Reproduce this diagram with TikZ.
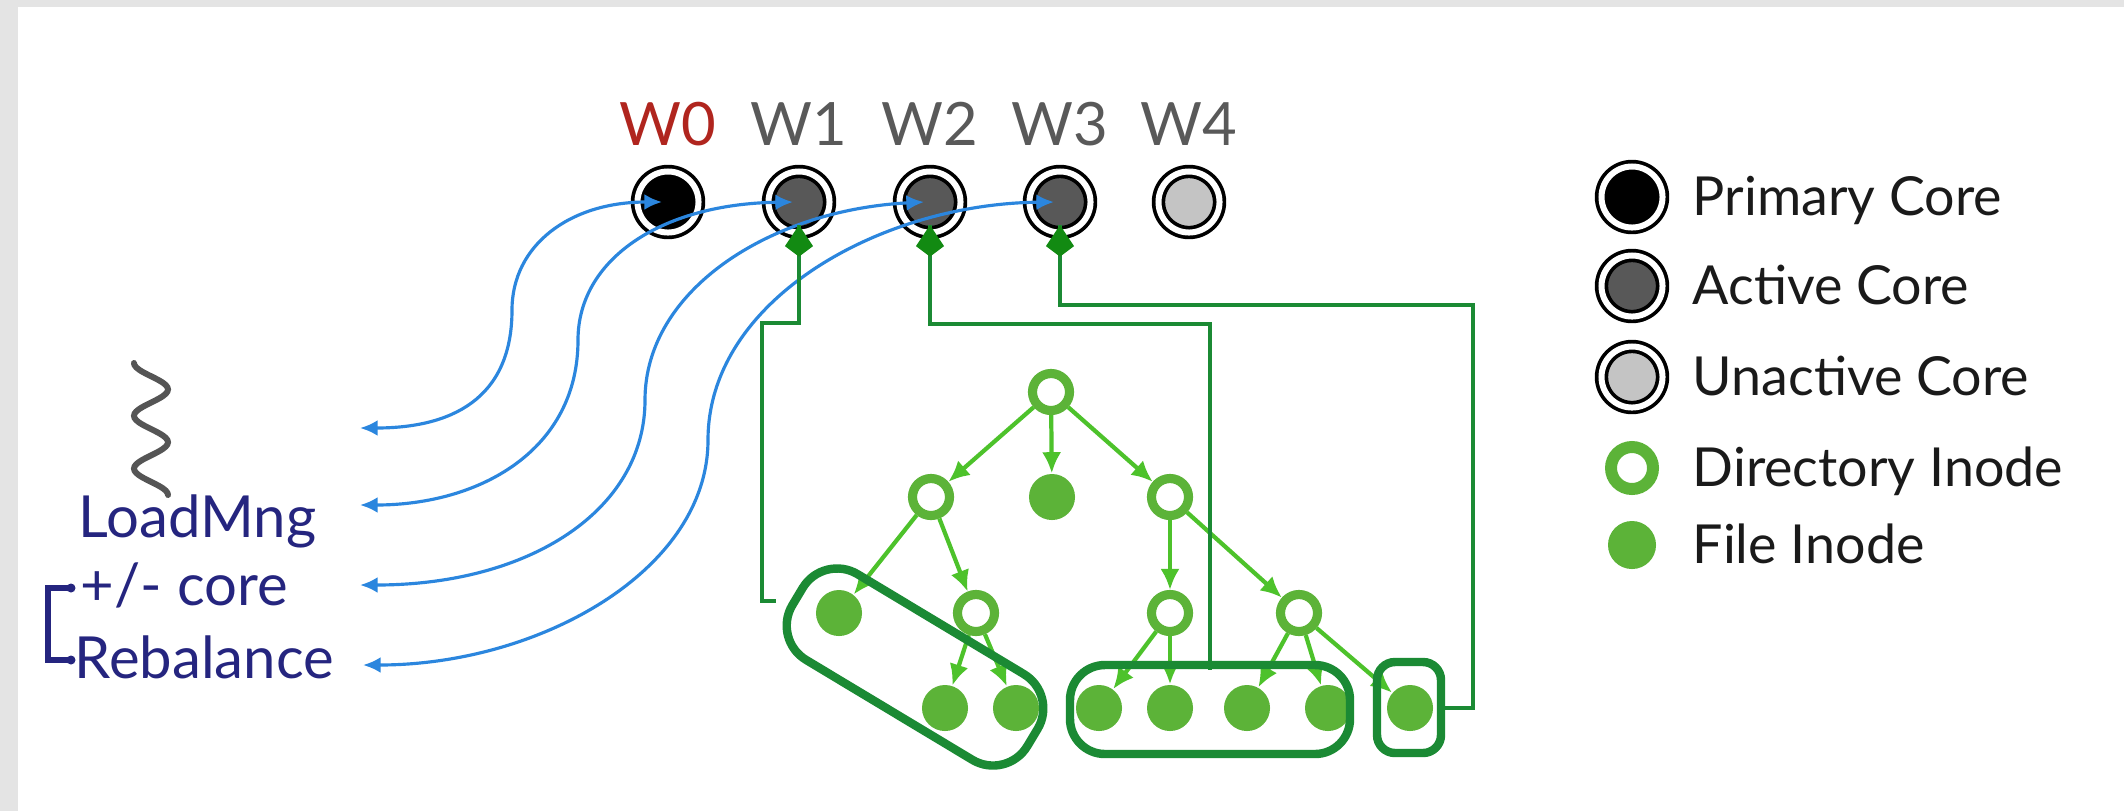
\documentclass[tikz,border=0pt]{standalone}
\usepackage{fontspec}
\setmainfont{Lato}
\usetikzlibrary{arrows.meta}
\definecolor{bggray}{HTML}{E4E4E4}
\definecolor{coregray}{HTML}{585858}
\definecolor{corelight}{HTML}{C4C4C4}
\definecolor{tgreen}{HTML}{5CB338}
\definecolor{agreen}{HTML}{4DC22B}
\definecolor{dgreen}{HTML}{1B8A34}
\definecolor{kgreen}{HTML}{128A12}
\definecolor{barrow}{HTML}{2B86DE}
\definecolor{navy}{HTML}{25257F}
\definecolor{wred}{HTML}{B0251E}
\definecolor{wgray}{HTML}{595959}
\definecolor{wavegray}{HTML}{555555}
\definecolor{legtext}{HTML}{1A1A1A}
\begin{document}
\begin{tikzpicture}[x=0.01cm,y=-0.01cm,
  core/.style={circle, draw=black, line width=1.05pt, double=white, double distance=0.06cm, minimum size=0.61cm, inner sep=0pt, outer sep=0pt},
  primary/.style={core, fill=black},
  active/.style={core, fill=coregray},
  unactive/.style={core, fill=corelight},
  dirnode/.style={circle, draw=tgreen, line width=2.6pt, fill=white, minimum size=0.37cm, inner sep=0pt, outer sep=1.3pt},
  filenode/.style={circle, fill=tgreen, minimum size=0.46cm, inner sep=0pt},
  legdir/.style={circle, draw=tgreen, line width=3.4pt, fill=white, minimum size=0.42cm, inner sep=0pt},
  legfile/.style={circle, fill=tgreen, minimum size=0.48cm, inner sep=0pt},
  treearr/.style={draw=agreen, line width=1.2pt, -{Latex[length=6pt,width=5.5pt]}},
  grp/.style={draw=dgreen, line width=2.4pt},
  conn/.style={draw=dgreen, line width=1pt},
  kite/.style={{Kite[length=9pt,width=8pt,inset=3pt]}-},
  bluearr/.style={draw=barrow, line width=0.9pt, {Latex[length=5pt,width=4.5pt]}-{Latex[length=5pt,width=4.5pt]}},
  wlab/.style={anchor=base, inner sep=0pt, font=\fontsize{17}{20}\selectfont},
  leftlab/.style={anchor=base west, inner sep=0pt, text=navy, font=\fontsize{16.5}{19}\selectfont},
  legtxt/.style={anchor=base west, inner sep=0pt, text=legtext, font=\fontsize{15.3}{18}\selectfont},
  dot/.style={circle, fill=navy, minimum size=0.09cm, inner sep=0pt}
]
\fill[bggray] (0,0) rectangle (2124,811);
\fill[white] (18,7) rectangle (2124,811);
\useasboundingbox (0,0) rectangle (2124,811);

% cores
\node[primary] (w0) at (668,202) {};
\node[active] (w1) at (799,202) {};
\node[active] (w2) at (930,202) {};
\node[active] (w3) at (1060,202) {};
\node[unactive] (w4) at (1189,202) {};
\node[wlab, text=wred] (lw0) at (668,145) {W0};
\node[wlab, text=wgray] (lw1) at (799,145) {W1};
\node[wlab, text=wgray] (lw2) at (930,145) {W2};
\node[wlab, text=wgray] (lw3) at (1060,145) {W3};
\node[wlab, text=wgray] (lw4) at (1189,145) {W4};

% left labels
\draw[wavegray, line width=1.7pt, line cap=round] plot[smooth, variable=\t, domain=0:5, samples=61] ({151-17*cos(180*\t)}, {363+26.4*\t});
\node[leftlab] (load) at (78,537) {LoadMng};
\node[leftlab] (plus) at (80,605) {+/- core};
\node[leftlab] (reb) at (74,678) {Rebalance};
\coordinate (bt) at (71,588);
\coordinate (bb) at (71,660);
\draw[navy, line width=1.5pt] (bt) -- (48,588) -- (48,660) -- (bb);
\node[dot] at (bt) {};
\node[dot] at (bb) {};

% blue arrows
\coordinate (t0) at (360,428);
\coordinate (t1) at (360,505);
\coordinate (t2) at (360,585);
\coordinate (t3) at (363,665);
\draw[bluearr] (t0) .. controls (450,428) and (512,400) .. (512,310) .. controls (512,245) and (570,202) .. ([xshift=-0.06cm]w0.center);
\draw[bluearr] (t1) .. controls (480,505) and (578,450) .. (578,340) .. controls (578,260) and (660,204) .. ([xshift=-0.06cm]w1.center);
\draw[bluearr] (t2) .. controls (530,585) and (645,510) .. (645,400) .. controls (645,290) and (770,210) .. ([xshift=-0.06cm]w2.center);
\draw[bluearr] (t3) .. controls (540,665) and (708,570) .. (708,440) .. controls (708,300) and (880,204) .. ([xshift=-0.06cm]w3.center);

% tree
\node[dirnode] (r) at (1051,392) {};
\node[dirnode] (a1) at (931,497) {};
\node[filenode] (a2) at (1052,497) {};
\node[dirnode] (a3) at (1170,497) {};
\node[filenode] (b1) at (839,613) {};
\node[dirnode] (b2) at (976,613) {};
\node[dirnode] (b3) at (1170,613) {};
\node[dirnode] (b4) at (1299,613) {};
\node[filenode] (c1) at (945,708) {};
\node[filenode] (c2) at (1016,708) {};
\node[filenode] (c3) at (1099,708) {};
\node[filenode] (c4) at (1170,708) {};
\node[filenode] (c5) at (1247,708) {};
\node[filenode] (c6) at (1328,708) {};
\node[filenode] (c7) at (1410,708) {};
\draw[treearr] (r) -- (a1);
\draw[treearr] (r) -- (a2);
\draw[treearr] (r) -- (a3);
\draw[treearr] (a1) -- (b1);
\draw[treearr] (a1) -- (b2);
\draw[treearr] (a3) -- (b3);
\draw[treearr] (a3) -- (b4);
\draw[treearr] (b2) -- (c1);
\draw[treearr] (b2) -- (c2);
\draw[treearr] (b3) -- (c3);
\draw[treearr] (b3) -- (c4);
\draw[treearr] (b4) -- (c5);
\draw[treearr] (b4) -- (c6);
\draw[treearr] (b4) -- (c7);

% groups
\draw[grp, rounded corners=0.4cm, rotate around={-31:(915,667)}] (778,617) rectangle (1052,717);
\draw[grp, rounded corners=0.35cm] (1070,665) rectangle (1350,754);
\draw[grp, rounded corners=0.18cm] (1377,662) rectangle (1441,753);

% green connectors
\coordinate (k1) at ([yshift=-0.23cm]w1.center);
\coordinate (k2) at ([yshift=-0.23cm]w2.center);
\coordinate (k3) at ([yshift=-0.23cm]w3.center);
\coordinate (e1) at (776,601);
\coordinate (e2) at (1210,670);
\coordinate (e3) at (1445,708);
\draw[conn] (k1) |- (762,323) |- (e1);
\draw[conn] (k2) -- (930,324) -| (e2);
\draw[conn] (k3) -- (1060,305) -| (1473,708) -- (e3);
\draw[conn, kite, draw=kgreen, fill=kgreen] (k1) -- ++(0,10);
\draw[conn, kite, draw=kgreen, fill=kgreen] (k2) -- ++(0,10);
\draw[conn, kite, draw=kgreen, fill=kgreen] (k3) -- ++(0,10);

% legend
\node[primary] (l1) at (1632,197) {};
\node[active] (l2) at (1632,286) {};
\node[unactive] (l3) at (1632,377) {};
\node[legdir] (l4) at (1632,468) {};
\node[legfile] (l5) at (1632,545) {};
\node[legtxt] (lt1) at (1692,215) {Primary Core};
\node[legtxt] (lt2) at (1692,304) {Active Core};
\node[legtxt] (lt3) at (1692,395) {Unactive Core};
\node[legtxt] (lt4) at (1692,486) {Directory Inode};
\node[legtxt] (lt5) at (1692,563) {File Inode};
\end{tikzpicture}
\end{document}
